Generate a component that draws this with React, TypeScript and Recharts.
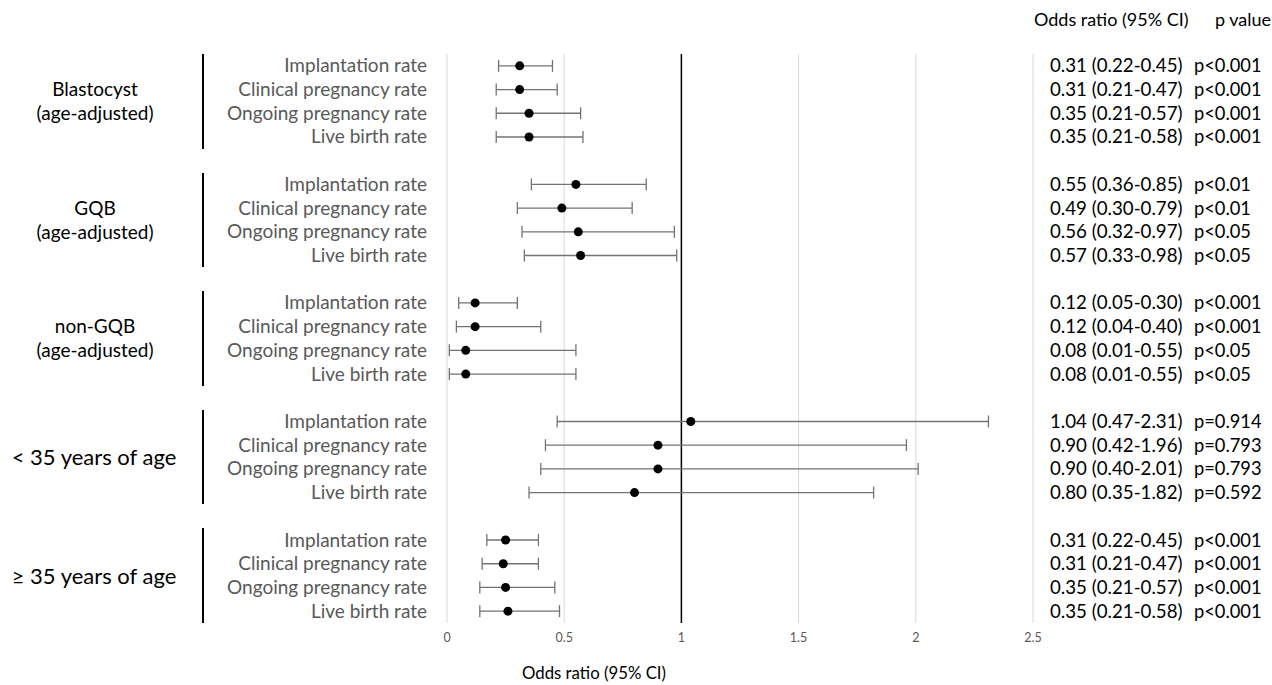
import React from "react"
import {
    ScatterChart,
    Scatter,
    XAxis,
    YAxis,
    CartesianGrid,
    ReferenceLine,
    ErrorBar,
} from "recharts"

const outcomes = ["Implantation rate", "Clinical pregnancy rate", "Ongoing pregnancy rate", "Live birth rate"]

const groupNames = [
    ["Blastocyst", "(age-adjusted)"],
    ["GQB", "(age-adjusted)"],
    ["non-GQB", "(age-adjusted)"],
    ["< 35 years of age"],
    ["\u2265 35 years of age"],
]

// point estimates and CI ends as plotted
const oddsRatio = [
    [0.31, 0.31, 0.35, 0.35],
    [0.55, 0.49, 0.56, 0.57],
    [0.12, 0.12, 0.08, 0.08],
    [1.04, 0.9, 0.9, 0.8],
    [0.25, 0.24, 0.25, 0.26],
]
const ciLow = [
    [0.22, 0.21, 0.21, 0.21],
    [0.36, 0.3, 0.32, 0.33],
    [0.05, 0.04, 0.01, 0.01],
    [0.47, 0.42, 0.4, 0.35],
    [0.17, 0.15, 0.14, 0.14],
]
const ciHigh = [
    [0.45, 0.47, 0.57, 0.58],
    [0.85, 0.79, 0.97, 0.98],
    [0.3, 0.4, 0.55, 0.55],
    [2.31, 1.96, 2.01, 1.82],
    [0.39, 0.39, 0.46, 0.48],
]

// right-hand table text
const orText = [
    ["0.31 (0.22-0.45)", "0.31 (0.21-0.47)", "0.35 (0.21-0.57)", "0.35 (0.21-0.58)"],
    ["0.55 (0.36-0.85)", "0.49 (0.30-0.79)", "0.56 (0.32-0.97)", "0.57 (0.33-0.98)"],
    ["0.12 (0.05-0.30)", "0.12 (0.04-0.40)", "0.08 (0.01-0.55)", "0.08 (0.01-0.55)"],
    ["1.04 (0.47-2.31)", "0.90 (0.42-1.96)", "0.90 (0.40-2.01)", "0.80 (0.35-1.82)"],
    ["0.31 (0.22-0.45)", "0.31 (0.21-0.47)", "0.35 (0.21-0.57)", "0.35 (0.21-0.58)"],
]
const pText = [
    ["p<0.001", "p<0.001", "p<0.001", "p<0.001"],
    ["p<0.01", "p<0.01", "p<0.05", "p<0.05"],
    ["p<0.001", "p<0.001", "p<0.05", "p<0.05"],
    ["p=0.914", "p=0.793", "p=0.793", "p=0.592"],
    ["p<0.001", "p<0.001", "p<0.001", "p<0.001"],
]

const xTicks = [0, 0.5, 1, 1.5, 2, 2.5]

const W = 1272
const H = 685
const TOP = 54
const BOTTOM = 623
const ROWS = 24
const ROW_H = (BOTTOM - TOP) / ROWS
const FONT = "Lato, 'Open Sans', sans-serif"

const rows = groupNames.flatMap((_, g) =>
    outcomes.map((name, k) => ({
        row: g * 5 + k + 0.5,
        name,
        or: oddsRatio[g][k],
        err: [oddsRatio[g][k] - ciLow[g][k], ciHigh[g][k] - oddsRatio[g][k]],
        orLabel: orText[g][k],
        p: pText[g][k],
    }))
)
const rowTicks = rows.map(r => r.row)
const byRow = (v: number) => rows.find(r => Math.abs(r.row - v) < 0.01)

const LeftTick = (props: any) => {
    const r = byRow(props.payload.value)
    return (
        <text x={props.x} y={props.y} dy={6.5} textAnchor="end" fill="#595959" fontSize={19} fontFamily={FONT}>
            {r?.name}
        </text>
    )
}

const RightTick = (props: any) => {
    const r = byRow(props.payload.value)
    return (
        <g>
            <text x={props.x + 17} y={props.y} dy={6.5} fill="#000" fontSize={18.7} fontFamily={FONT}>
                {r?.orLabel}
            </text>
            <text x={props.x + 161} y={props.y} dy={6.5} fill="#000" fontSize={18.3} fontFamily={FONT}>
                {r?.p}
            </text>
        </g>
    )
}

export default function App() {
    return (
        <div style={{ position: "absolute", left: 0, top: 0, width: W, height: H, background: "#fff", fontFamily: FONT }}>
            <ScatterChart width={W} height={H} margin={{ top: TOP, right: 0, bottom: 32, left: 0 }}>
                <CartesianGrid yAxisId="left" horizontal={false} stroke="#d9d9d9" />
                <XAxis
                    type="number"
                    dataKey="or"
                    domain={[0, 2.5]}
                    ticks={xTicks}
                    interval={0}
                    axisLine={false}
                    tickLine={false}
                    tickSize={0}
                    tickMargin={10}
                    height={30}
                    tick={{ fill: "#595959", fontSize: 12.5, fontFamily: FONT }}
                    label={({ viewBox }: any) => (
                        <text x={viewBox.x + 147} y={viewBox.y + 56} textAnchor="middle" fill="#000" fontSize={16.8} fontFamily={FONT}>
                            Odds ratio (95% CI)
                        </text>
                    )}
                />
                <YAxis
                    yAxisId="left"
                    type="number"
                    dataKey="row"
                    domain={[0, ROWS]}
                    reversed
                    ticks={rowTicks}
                    interval={0}
                    width={447}
                    axisLine={false}
                    tickLine={false}
                    tickSize={0}
                    tickMargin={20}
                    tick={<LeftTick />}
                />
                <YAxis
                    yAxisId="right"
                    orientation="right"
                    type="number"
                    dataKey="row"
                    domain={[0, ROWS]}
                    reversed
                    ticks={rowTicks}
                    interval={0}
                    width={239}
                    axisLine={false}
                    tickLine={false}
                    tickSize={0}
                    tickMargin={0}
                    tick={<RightTick />}
                />
                <ReferenceLine yAxisId="left" x={1} stroke="#000" strokeWidth={1.5} />
                <Scatter yAxisId="right" data={rows} isAnimationActive={false} shape={() => <g />} />
                <Scatter yAxisId="left" data={rows} fill="#000" isAnimationActive={false} shape={(p: any) => <circle cx={p.cx} cy={p.cy} r={4.5} fill="#000" />}>
                    <ErrorBar dataKey="err" direction="x" width={6} stroke="#737373" strokeWidth={1.3} />
                </Scatter>
            </ScatterChart>

            <div style={{ position: "absolute", left: 1034, top: 8, fontSize: 18, color: "#000" }}>Odds ratio (95% CI)</div>
            <div style={{ position: "absolute", left: 1215, top: 8, fontSize: 18, color: "#000" }}>p value</div>

            {groupNames.map((lines, g) => {
                const top = TOP + g * 5 * ROW_H
                const big = lines.length === 1
                return (
                    <React.Fragment key={g}>
                        <div style={{ position: "absolute", left: 202, top, width: 2, height: 4 * ROW_H, background: "#000" }} />
                        <div
                            style={{
                                position: "absolute",
                                left: 0,
                                width: big ? 188 : 190,
                                top,
                                height: 4 * ROW_H,
                                display: "flex",
                                flexDirection: "column",
                                justifyContent: "center",
                                alignItems: "center",
                                textAlign: "center",
                                fontSize: big ? 22 : 19,
                                lineHeight: big ? "26px" : "24px",
                                color: "#000",
                            }}
                        >
                            {lines.map(l => (
                                <div key={l} style={{ whiteSpace: "pre" }}>{l}</div>
                            ))}
                        </div>
                    </React.Fragment>
                )
            })}
        </div>
    )
}
